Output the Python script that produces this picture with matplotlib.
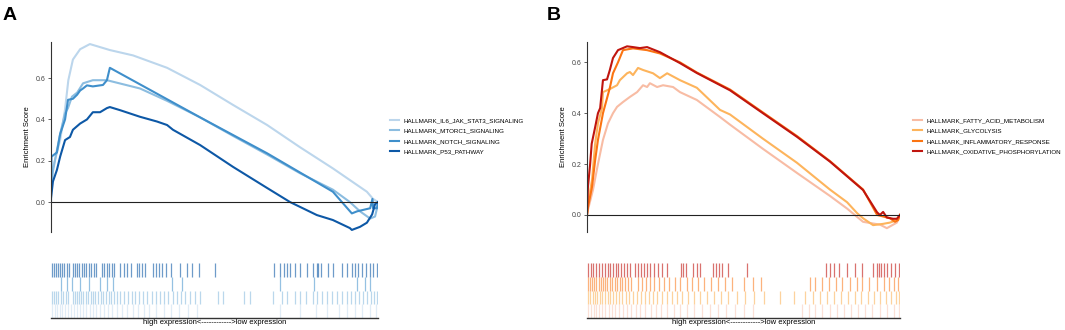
import matplotlib
matplotlib.use("Agg")
import matplotlib.pyplot as plt

plt.rcParams['font.family'] = ['Liberation Sans', 'DejaVu Sans']

# ---- panel A : running enrichment scores (x = rank fraction) ----
il6_rank = [0, 0.003, 0.028, 0.043, 0.053, 0.067, 0.089, 0.119, 0.180, 0.251, 0.355, 0.456, 0.557, 0.661, 0.761, 0.862, 0.966, 0.985, 1.0]
il6_es = [0.10, 0.15, 0.30, 0.45, 0.59, 0.69, 0.74, 0.765, 0.736, 0.71, 0.65, 0.567, 0.47, 0.373, 0.266, 0.163, 0.05, 0.015, 0.0]

mtorc1_rank = [0, 0.006, 0.018, 0.028, 0.043, 0.052, 0.064, 0.080, 0.098, 0.128, 0.171, 0.272, 0.355, 0.456, 0.557, 0.661, 0.761, 0.862, 0.914, 0.945, 0.976, 0.991, 0.997, 1.0]
mtorc1_es = [0.05, 0.15, 0.25, 0.33, 0.43, 0.455, 0.51, 0.53, 0.575, 0.59, 0.59, 0.55, 0.49, 0.41, 0.32, 0.23, 0.14, 0.06, 0.0, -0.045, -0.08, -0.07, -0.03, 0.0]

notch_rank = [0, 0.0015, 0.018, 0.028, 0.043, 0.052, 0.067, 0.080, 0.089, 0.098, 0.110, 0.128, 0.159, 0.171, 0.180, 0.456, 0.661, 0.862, 0.920, 0.936, 0.976, 0.983, 0.985, 0.997, 1.0]
notch_es = [0.0, 0.22, 0.24, 0.33, 0.40, 0.495, 0.50, 0.52, 0.54, 0.55, 0.565, 0.56, 0.567, 0.59, 0.65, 0.41, 0.236, 0.05, -0.055, -0.045, -0.03, 0.015, -0.03, -0.03, 0.0]

p53_rank = [0, 0.006, 0.018, 0.028, 0.043, 0.058, 0.067, 0.089, 0.110, 0.128, 0.150, 0.171, 0.180, 0.211, 0.272, 0.324, 0.355, 0.373, 0.456, 0.557, 0.661, 0.731, 0.761, 0.813, 0.862, 0.914, 0.920, 0.945, 0.966, 0.982, 0.991, 1.0]
p53_es = [0.02, 0.10, 0.155, 0.22, 0.30, 0.315, 0.35, 0.38, 0.40, 0.435, 0.435, 0.455, 0.46, 0.445, 0.413, 0.39, 0.373, 0.35, 0.276, 0.17, 0.068, 0.0, -0.023, -0.063, -0.087, -0.126, -0.135, -0.12, -0.10, -0.06, -0.01, 0.0]

# ---- panel B ----
fatty_rank = [0, 0.003, 0.019, 0.035, 0.051, 0.067, 0.083, 0.096, 0.115, 0.137, 0.160, 0.179, 0.192, 0.201, 0.224, 0.243, 0.275, 0.297, 0.351, 0.425, 0.457, 0.562, 0.671, 0.776, 0.831, 0.882, 0.936, 0.958, 0.990, 1.0]
fatty_es = [0.0, 0.02, 0.098, 0.20, 0.295, 0.36, 0.40, 0.425, 0.444, 0.464, 0.483, 0.51, 0.503, 0.518, 0.503, 0.51, 0.503, 0.483, 0.452, 0.385, 0.355, 0.26, 0.165, 0.075, 0.025, -0.027, -0.038, -0.052, -0.03, 0.0]

glyco_rank = [0, 0.003, 0.016, 0.026, 0.035, 0.048, 0.051, 0.073, 0.096, 0.105, 0.128, 0.137, 0.147, 0.163, 0.179, 0.211, 0.233, 0.256, 0.297, 0.351, 0.425, 0.457, 0.562, 0.671, 0.776, 0.831, 0.863, 0.882, 0.914, 0.946, 0.968, 0.990, 1.0]
glyco_es = [0.0, 0.047, 0.137, 0.28, 0.36, 0.42, 0.483, 0.495, 0.51, 0.53, 0.557, 0.562, 0.55, 0.578, 0.57, 0.557, 0.538, 0.557, 0.53, 0.50, 0.413, 0.395, 0.30, 0.205, 0.10, 0.05, 0.007, -0.013, -0.04, -0.035, -0.03, -0.02, 0.0]

inflam_rank = [0, 0.003, 0.016, 0.026, 0.035, 0.051, 0.073, 0.083, 0.099, 0.115, 0.147, 0.192, 0.233, 0.297, 0.351, 0.457, 0.562, 0.671, 0.776, 0.882, 0.927, 0.968, 0.984, 0.994, 1.0]
inflam_es = [0.0, 0.03, 0.11, 0.215, 0.295, 0.40, 0.50, 0.557, 0.60, 0.648, 0.655, 0.648, 0.635, 0.60, 0.56, 0.493, 0.403, 0.31, 0.212, 0.10, 0.0, -0.013, -0.027, -0.02, 0.0]

oxphos_rank = [0, 0.003, 0.010, 0.015, 0.026, 0.035, 0.042, 0.051, 0.064, 0.073, 0.083, 0.099, 0.128, 0.147, 0.169, 0.192, 0.233, 0.297, 0.351, 0.457, 0.562, 0.671, 0.776, 0.882, 0.927, 0.936, 0.946, 0.958, 0.978, 0.990, 1.0]
oxphos_es = [0.0, 0.11, 0.20, 0.28, 0.345, 0.40, 0.42, 0.53, 0.533, 0.57, 0.617, 0.648, 0.663, 0.66, 0.656, 0.66, 0.64, 0.597, 0.558, 0.49, 0.40, 0.307, 0.21, 0.098, 0.01, 0.0, 0.012, -0.01, -0.015, -0.015, 0.0]

# ---- hit positions (rank fraction) for the rug rows ----
p53_hits = [0.002, 0.008, 0.014, 0.020, 0.027, 0.034, 0.041, 0.048, 0.055, 0.068, 0.074, 0.080, 0.087, 0.094, 0.101, 0.108, 0.115, 0.122, 0.130, 0.138, 0.157, 0.163, 0.170, 0.178, 0.186, 0.194, 0.212, 0.222, 0.232, 0.245, 0.262, 0.270, 0.278, 0.288, 0.312, 0.320, 0.330, 0.340, 0.352, 0.366, 0.396, 0.416, 0.432, 0.452, 0.503, 0.682, 0.700, 0.712, 0.722, 0.732, 0.745, 0.762, 0.782, 0.800, 0.812, 0.818, 0.826, 0.846, 0.862, 0.890, 0.905, 0.921, 0.930, 0.940, 0.952, 0.962, 0.975, 0.985, 0.996]
notch_hits = [0.03, 0.05, 0.065, 0.09, 0.115, 0.15, 0.17, 0.19, 0.37, 0.40, 0.70, 0.805, 0.935, 0.96, 0.975]
mtorc1_hits = [0.002, 0.009, 0.016, 0.022, 0.030, 0.037, 0.045, 0.053, 0.066, 0.072, 0.079, 0.085, 0.092, 0.098, 0.106, 0.113, 0.121, 0.128, 0.136, 0.144, 0.152, 0.160, 0.168, 0.176, 0.184, 0.192, 0.201, 0.212, 0.223, 0.235, 0.247, 0.258, 0.270, 0.282, 0.295, 0.308, 0.320, 0.333, 0.345, 0.358, 0.372, 0.385, 0.398, 0.410, 0.425, 0.440, 0.455, 0.510, 0.525, 0.590, 0.610, 0.680, 0.705, 0.722, 0.745, 0.762, 0.780, 0.800, 0.812, 0.830, 0.845, 0.860, 0.875, 0.890, 0.905, 0.918, 0.930, 0.942, 0.955, 0.967, 0.978, 0.988, 0.997]
il6_hits = [0.004, 0.011, 0.019, 0.026, 0.035, 0.043, 0.052, 0.061, 0.069, 0.078, 0.088, 0.097, 0.107, 0.118, 0.127, 0.139, 0.150, 0.163, 0.175, 0.188, 0.202, 0.218, 0.233, 0.251, 0.266, 0.284, 0.301, 0.322, 0.345, 0.368, 0.392, 0.418, 0.445, 0.700, 0.760, 0.810, 0.845, 0.880, 0.905, 0.930, 0.952, 0.975, 0.994]

oxphos_hits = [0.003, 0.012, 0.020, 0.030, 0.038, 0.047, 0.058, 0.066, 0.074, 0.082, 0.093, 0.100, 0.110, 0.118, 0.128, 0.137, 0.152, 0.162, 0.172, 0.182, 0.192, 0.202, 0.214, 0.228, 0.240, 0.255, 0.300, 0.308, 0.316, 0.338, 0.352, 0.362, 0.402, 0.412, 0.422, 0.432, 0.452, 0.510, 0.765, 0.776, 0.790, 0.805, 0.830, 0.855, 0.880, 0.915, 0.925, 0.932, 0.940, 0.950, 0.960, 0.972, 0.985, 0.996]
inflam_hits = [0.002, 0.009, 0.016, 0.023, 0.030, 0.037, 0.044, 0.051, 0.058, 0.065, 0.072, 0.080, 0.088, 0.096, 0.104, 0.112, 0.122, 0.132, 0.142, 0.162, 0.175, 0.188, 0.200, 0.215, 0.230, 0.245, 0.262, 0.280, 0.298, 0.318, 0.335, 0.355, 0.375, 0.395, 0.418, 0.440, 0.462, 0.500, 0.530, 0.555, 0.712, 0.730, 0.752, 0.772, 0.795, 0.815, 0.840, 0.862, 0.880, 0.900, 0.925, 0.948, 0.965, 0.982, 0.995]
glyco_hits = [0.003, 0.010, 0.018, 0.025, 0.033, 0.041, 0.049, 0.057, 0.066, 0.075, 0.084, 0.093, 0.103, 0.113, 0.124, 0.135, 0.147, 0.159, 0.171, 0.184, 0.197, 0.211, 0.225, 0.240, 0.255, 0.271, 0.288, 0.305, 0.323, 0.342, 0.362, 0.383, 0.405, 0.428, 0.452, 0.478, 0.505, 0.535, 0.565, 0.618, 0.662, 0.695, 0.722, 0.745, 0.768, 0.790, 0.812, 0.833, 0.855, 0.876, 0.898, 0.918, 0.937, 0.955, 0.972, 0.988, 0.998]
fatty_hits = [0.004, 0.012, 0.021, 0.030, 0.039, 0.049, 0.059, 0.069, 0.080, 0.091, 0.103, 0.115, 0.128, 0.141, 0.155, 0.170, 0.186, 0.203, 0.220, 0.238, 0.257, 0.277, 0.298, 0.320, 0.343, 0.367, 0.392, 0.418, 0.445, 0.472, 0.500, 0.530, 0.686, 0.708, 0.730, 0.752, 0.775, 0.798, 0.820, 0.843, 0.866, 0.889, 0.912, 0.935, 0.958, 0.980, 0.996]

names_a = ['HALLMARK_IL6_JAK_STAT3_SIGNALING', 'HALLMARK_MTORC1_SIGNALING', 'HALLMARK_NOTCH_SIGNALING', 'HALLMARK_P53_PATHWAY']
names_b = ['HALLMARK_FATTY_ACID_METABOLISM', 'HALLMARK_GLYCOLYSIS', 'HALLMARK_INFLAMMATORY_RESPONSE', 'HALLMARK_OXIDATIVE_PHOSPHORYLATION']
colors_a = ['#bcd6ec', '#8cbde0', '#3f8fcb', '#0d58a6']
colors_b = ['#f8bca4', '#fdb45c', '#fb7412', '#c0150e']
rug_alpha = [0.45, 0.6, 0.55, 0.6]

panel_a = [(il6_rank, il6_es, il6_hits), (mtorc1_rank, mtorc1_es, mtorc1_hits),
           (notch_rank, notch_es, notch_hits), (p53_rank, p53_es, p53_hits)]
panel_b = [(fatty_rank, fatty_es, fatty_hits), (glyco_rank, glyco_es, glyco_hits),
           (inflam_rank, inflam_es, inflam_hits), (oxphos_rank, oxphos_es, oxphos_hits)]

fig = plt.figure(figsize=(10.65, 3.3), dpi=100)
W, H = 1065, 330


def draw_panel(left, right, ylim, sets, names, colors, legend_x, letter, letter_x):
    ax = fig.add_axes([left / W, 1 - 232 / H, (right - left) / W, 190 / H])
    for (rk, es, _), nm, c in zip(sets, names, colors):
        ax.plot(rk, es, color=c, lw=1.5, label=nm)
    ax.axhline(0, color='#222222', lw=0.8)
    ax.set_xlim(0, 1)
    ax.set_ylim(*ylim)
    for s in ['top', 'right', 'bottom']:
        ax.spines[s].set_visible(False)
    ax.spines['left'].set_color('#333333')
    ax.spines['left'].set_linewidth(0.8)
    ax.set_xticks([])
    ax.set_yticks([0.0, 0.2, 0.4, 0.6])
    ax.set_yticklabels(['0.0', '0.2', '0.4', '0.6'])
    ax.tick_params(axis='y', labelsize=5, colors='#444444', length=2, width=0.6, pad=2)
    ax.set_ylabel('Enrichment Score', fontsize=5.5, labelpad=3)

    ax.legend(loc='upper left', bbox_to_anchor=(legend_x / W, 1 - 118 / H),
              bbox_transform=fig.transFigure,
              frameon=False, fontsize=4.5, handlelength=1.5, handletextpad=0.7,
              labelspacing=0.78, borderpad=0, borderaxespad=0)

    # rug of hits, last set on top
    rug = fig.add_axes([left / W, 1 - 318 / H, (right - left) / W, 55 / H])
    for i, ((_, _, hits), c) in enumerate(zip(sets, colors)):
        rug.vlines(hits, i, i + 1, color=c, lw=0.9, alpha=rug_alpha[i])
    rug.set_xlim(0, 1)
    rug.set_ylim(0, 4)
    for s in ['top', 'right', 'left']:
        rug.spines[s].set_visible(False)
    rug.spines['bottom'].set_color('#333333')
    rug.spines['bottom'].set_linewidth(1.0)
    rug.set_xticks([])
    rug.set_yticks([])
    rug.set_xlabel('high expression<------------>low expression', fontsize=5.5, labelpad=1)

    fig.text(letter_x / W, 1 - 20 / H, letter, fontsize=14, fontweight='bold')


draw_panel(51, 378, (-0.145, 0.775), panel_a, names_a, colors_a, 390, 'A', 3)
draw_panel(587, 900, (-0.067, 0.68), panel_b, names_b, colors_b, 913, 'B', 547)

fig.savefig('out.png', dpi=100)
